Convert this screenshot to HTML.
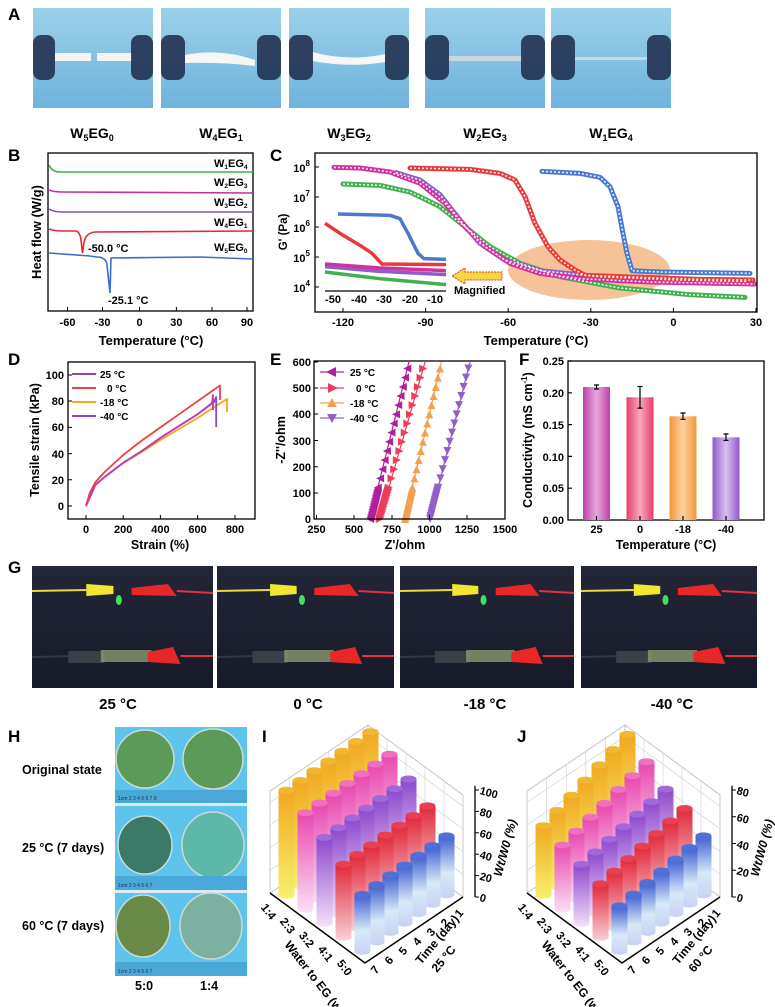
<!DOCTYPE html>
<html><head><meta charset="utf-8"><style>
html,body{margin:0;padding:0;background:#fff}
svg{display:block;font-family:"Liberation Sans",Arial,sans-serif}
.pl{font-weight:bold;font-size:17px}
.t{font-size:11px;font-weight:bold}
.at{font-size:11.5px;font-weight:bold}
</style></head><body>
<svg id="s" width="775" height="1007" viewBox="0 0 775 1007" xmlns="http://www.w3.org/2000/svg">
<defs>
<linearGradient id="ph" x1="0" y1="0" x2="0" y2="1"><stop offset="0" stop-color="#9cd0ea"/><stop offset="1" stop-color="#6fb3dc"/></linearGradient>
<linearGradient id="dk" x1="0" y1="0" x2="0" y2="1"><stop offset="0" stop-color="#222637"/><stop offset="1" stop-color="#161a28"/></linearGradient>
<linearGradient id="b1" x1="0" y1="0" x2="1" y2="0"><stop offset="0" stop-color="#c040a8"/><stop offset=".5" stop-color="#e8a8dc"/><stop offset="1" stop-color="#c040a8"/></linearGradient>
<linearGradient id="b2" x1="0" y1="0" x2="1" y2="0"><stop offset="0" stop-color="#e83c6c"/><stop offset=".5" stop-color="#f8a8bc"/><stop offset="1" stop-color="#e83c6c"/></linearGradient>
<linearGradient id="b3" x1="0" y1="0" x2="1" y2="0"><stop offset="0" stop-color="#f09838"/><stop offset=".5" stop-color="#fcd0a0"/><stop offset="1" stop-color="#f09838"/></linearGradient>
<linearGradient id="b4" x1="0" y1="0" x2="1" y2="0"><stop offset="0" stop-color="#9058c8"/><stop offset=".5" stop-color="#d8c0f0"/><stop offset="1" stop-color="#9058c8"/></linearGradient>
<linearGradient id="gY" x1="0" y1="0" x2="0" y2="1"><stop offset="0" stop-color="#f0a820"/><stop offset="1" stop-color="#f8f070"/></linearGradient>
<linearGradient id="gP" x1="0" y1="0" x2="0" y2="1"><stop offset="0" stop-color="#e848b0"/><stop offset="1" stop-color="#fae0f4"/></linearGradient>
<linearGradient id="gV" x1="0" y1="0" x2="0" y2="1"><stop offset="0" stop-color="#8c48cc"/><stop offset="1" stop-color="#f4e0fa"/></linearGradient>
<linearGradient id="gR" x1="0" y1="0" x2="0" y2="1"><stop offset="0" stop-color="#e02838"/><stop offset="1" stop-color="#fad0d8"/></linearGradient>
<linearGradient id="gB" x1="0" y1="0" x2="0" y2="1"><stop offset="0" stop-color="#3c5cd0"/><stop offset=".6" stop-color="#d8eaf8"/><stop offset="1" stop-color="#c8d0f4"/></linearGradient>
</defs>

<!-- Panel A -->
<text class="pl" x="8" y="20">A</text>
<g>
<rect x="33" y="8" width="120" height="100" fill="url(#ph)"/>
<rect x="161" y="8" width="120" height="100" fill="url(#ph)"/>
<rect x="289" y="8" width="120" height="100" fill="url(#ph)"/>
<rect x="425" y="8" width="120" height="100" fill="url(#ph)"/>
<rect x="551" y="8" width="120" height="100" fill="url(#ph)"/>
<rect x="55" y="53" width="36" height="8" fill="#f4f4f4"/><rect x="97" y="53" width="36" height="8" fill="#f4f4f4"/>
<path d="M185 55 Q220 48 255 60 L255 66 Q220 62 185 63Z" fill="#f6f6f4"/>
<path d="M312 52 Q350 62 385 54 L385 62 Q350 68 312 61Z" fill="#f6f6f4"/>
<rect x="448" y="56" width="75" height="5" fill="#c8d8dc"/>
<rect x="574" y="57" width="75" height="3" fill="#c8d8dc"/>
<g fill="#1c2a4a" opacity=".85">
<rect x="33" y="35" width="22" height="45" rx="8"/><rect x="131" y="35" width="22" height="45" rx="8"/>
<rect x="161" y="35" width="24" height="45" rx="8"/><rect x="257" y="35" width="24" height="45" rx="8"/>
<rect x="289" y="35" width="24" height="45" rx="8"/><rect x="385" y="35" width="24" height="45" rx="8"/>
<rect x="425" y="35" width="24" height="45" rx="8"/><rect x="521" y="35" width="24" height="45" rx="8"/>
<rect x="551" y="35" width="24" height="45" rx="8"/><rect x="647" y="35" width="24" height="45" rx="8"/>
</g>
</g>
<g font-weight="bold" font-size="14" text-anchor="middle">
<text x="92" y="138">W<tspan font-size="9" dy="3">5</tspan><tspan dy="-3">EG</tspan><tspan font-size="9" dy="3">0</tspan></text>
<text x="221" y="138">W<tspan font-size="9" dy="3">4</tspan><tspan dy="-3">EG</tspan><tspan font-size="9" dy="3">1</tspan></text>
<text x="349" y="138">W<tspan font-size="9" dy="3">3</tspan><tspan dy="-3">EG</tspan><tspan font-size="9" dy="3">2</tspan></text>
<text x="485" y="138">W<tspan font-size="9" dy="3">2</tspan><tspan dy="-3">EG</tspan><tspan font-size="9" dy="3">3</tspan></text>
<text x="611" y="138">W<tspan font-size="9" dy="3">1</tspan><tspan dy="-3">EG</tspan><tspan font-size="9" dy="3">4</tspan></text>
</g>

<!-- Panel B -->
<text class="pl" x="8" y="161">B</text>
<rect x="48" y="153" width="205" height="158" fill="none" stroke="#000" stroke-width="1.3"/>
<g fill="none" stroke-width="1.6">
<path d="M49 165 Q52 172 60 172 L253 172" stroke="#3cb44a"/>
<path d="M49 190 Q54 192 62 192 L253 193" stroke="#c030a0"/>
<path d="M49 209 Q54 212 62 212 L253 212" stroke="#8050c0"/>
<path d="M49 229 Q54 231 62 231 L76 231 Q80 232 81 240 L82.5 253 L84 242 Q86 233 95 232 L253 231" stroke="#e82830"/>
<path d="M49 253 L90 256 L97 257 Q106 257 107 265 L110 293 L111 258 L200 257 L253 259" stroke="#3c6cd0"/>
</g>
<g class="t" font-size="9.5">
<text x="214" y="167">W<tspan font-size="6.5" dy="2">1</tspan><tspan dy="-2">EG</tspan><tspan font-size="6.5" dy="2">4</tspan></text>
<text x="214" y="186">W<tspan font-size="6.5" dy="2">2</tspan><tspan dy="-2">EG</tspan><tspan font-size="6.5" dy="2">3</tspan></text>
<text x="214" y="206">W<tspan font-size="6.5" dy="2">3</tspan><tspan dy="-2">EG</tspan><tspan font-size="6.5" dy="2">2</tspan></text>
<text x="214" y="226">W<tspan font-size="6.5" dy="2">4</tspan><tspan dy="-2">EG</tspan><tspan font-size="6.5" dy="2">1</tspan></text>
<text x="214" y="251">W<tspan font-size="6.5" dy="2">5</tspan><tspan dy="-2">EG</tspan><tspan font-size="6.5" dy="2">0</tspan></text>
<text x="88" y="252">-50.0 °C</text>
<text x="108" y="304">-25.1 °C</text>
</g>
<g stroke="#000" stroke-width="1">
<path d="M67.5 311v-4M102.5 311v-4M139.5 311v-4M176.4 311v-4M212 311v-4M247 311v-4"/>
</g>
<g class="t" text-anchor="middle" font-size="12">
<text x="67.5" y="326">-60</text><text x="102.5" y="326">-30</text><text x="139.5" y="326">0</text><text x="176.4" y="326">30</text><text x="212" y="326">60</text><text x="247" y="326">90</text>
<text x="151" y="345" font-size="13">Temperature (°C)</text>
<text transform="translate(41 232) rotate(-90)" font-size="13">Heat flow (W/g)</text>
</g>

<!-- Panel C -->
<text class="pl" x="270" y="161">C</text>
<ellipse cx="589" cy="270" rx="81" ry="30" fill="#f5b887" opacity=".85"/>
<g transform="matrix(1 0 0 0.6667 0 46.667)">
<g fill="none" stroke-width="5" stroke-linejoin="round" stroke-linecap="round">
<polyline vector-effect="non-scaling-stroke" stroke="#3fb14d" points="343,206 380,208 410,218 440,240 465,270 490,300 520,325 560,345 620,362 690,372 745,376"/>
<polyline vector-effect="non-scaling-stroke" stroke="#8f5ccb" points="396,189 420,200 440,222 460,260 480,295 505,320 540,336 600,345 680,350 748,352"/>
<polyline vector-effect="non-scaling-stroke" stroke="#d3309f" points="334,181 360,182 390,188 420,205 445,235 465,270 485,300 510,325 540,340 580,348 650,353 755,356"/>
<polyline vector-effect="non-scaling-stroke" stroke="#e83a3a" points="410,182 470,184 500,190 515,200 525,225 535,265 548,300 560,320 575,335 585,343 620,345 700,349 753,350"/>
<polyline vector-effect="non-scaling-stroke" stroke="#4a78d0" points="542,187 580,190 600,196 610,210 618,240 623,280 627,310 632,336 660,338 750,340"/>
</g>
<g fill="none" stroke="#fff" stroke-width="1.6" stroke-dasharray="2 2" opacity=".9">
<polyline vector-effect="non-scaling-stroke" points="343,206 380,208 410,218 440,240 465,270 490,300 520,325 560,345 620,362 690,372 745,376"/>
<polyline vector-effect="non-scaling-stroke" points="396,189 420,200 440,222 460,260 480,295 505,320 540,336 600,345 680,350 748,352"/>
<polyline vector-effect="non-scaling-stroke" points="334,181 360,182 390,188 420,205 445,235 465,270 485,300 510,325 540,340 580,348 650,353 755,356"/>
<polyline vector-effect="non-scaling-stroke" points="410,182 470,184 500,190 515,200 525,225 535,265 548,300 560,320 575,335 585,343 620,345 700,349 753,350"/>
<polyline vector-effect="non-scaling-stroke" points="542,187 580,190 600,196 610,210 618,240 623,280 627,310 632,336 660,338 750,340"/>
</g>
<g fill="none" stroke-width="3.5" stroke-linejoin="round">
<polyline vector-effect="non-scaling-stroke" stroke="#3fb14d" points="325,338 380,348 446,357"/>
<polyline vector-effect="non-scaling-stroke" stroke="#8f5ccb" points="325,330 380,337 446,342"/>
<polyline vector-effect="non-scaling-stroke" stroke="#d3309f" points="325,326 380,332 446,336"/>
<polyline vector-effect="non-scaling-stroke" stroke="#e83a3a" points="325,265 340,280 360,298 372,310 382,326 446,327"/>
<polyline vector-effect="non-scaling-stroke" stroke="#4a78d0" points="338,251 390,253 400,258 408,280 418,310 424,318 446,319"/>
</g>
</g>
<line x1="325" y1="291" x2="446" y2="291" stroke="#000" stroke-width="1.2"/>
<g class="t" text-anchor="middle" font-size="10"><text x="333" y="303">-50</text><text x="359" y="303">-40</text><text x="384" y="303">-30</text><text x="410" y="303">-20</text><text x="435" y="303">-10</text></g>
<path d="M502 272 L465 272 L465 268 L452 276 L465 284 L465 280 L502 280Z" fill="#f4d840" stroke="#e83030" stroke-width="1" stroke-dasharray="2 1"/>
<text class="t" x="454" y="294" font-size="10.5">Magnified</text>
<rect x="315" y="153" width="442" height="159" fill="none" stroke="#000" stroke-width="1.3"/>
<g stroke="#000"><path d="M343 312v-4M425.6 312v-4M508.2 312v-4M590.8 312v-4M673.4 312v-4M756 312v-4M315 167h4M315 197h4M315 227h4M315 257h4M315 287h4"/></g>
<g class="t" font-size="12" text-anchor="middle">
<text x="343" y="326">-120</text><text x="425.6" y="326">-90</text><text x="508.2" y="326">-60</text><text x="590.8" y="326">-30</text><text x="673.4" y="326">0</text><text x="756" y="326">30</text>
<text x="536" y="345" font-size="13">Temperature (°C)</text>
</g>
<g class="t" font-size="12" text-anchor="end">
<text x="310" y="172">10<tspan font-size="8" dy="-6">8</tspan></text>
<text x="310" y="202">10<tspan font-size="8" dy="-6">7</tspan></text>
<text x="310" y="232">10<tspan font-size="8" dy="-6">6</tspan></text>
<text x="310" y="262">10<tspan font-size="8" dy="-6">5</tspan></text>
<text x="310" y="292">10<tspan font-size="8" dy="-6">4</tspan></text>
</g>
<text class="at" transform="translate(287 232) rotate(-90)" text-anchor="middle" font-size="13">G' (Pa)</text>

<!-- Panel D -->
<text class="pl" x="8" y="365">D</text>
<rect x="68" y="362" width="187" height="157" fill="none" stroke="#000" stroke-width="1.3"/>
<g fill="none" stroke-width="1.8" stroke-linejoin="round">
<polyline stroke="#f6a818" points="86,506 95.3,485 104.6,477 123.2,463 141.8,452 160.4,440 179,429 197.6,418 216,406 227,399 227,412"/>
<polyline stroke="#8848c8" points="86,506 95.3,485 104.6,477 123.2,462.8 141.8,451 160.4,437.9 179,426 197.6,414.3 214,402 216.2,397 216.2,427"/>
<polyline stroke="#c03cb0" points="86,506 95.3,485 104.6,477 123.2,462.8 141.8,451 160.4,437.9 179,426 197.6,414.3 212,403 213,395 213,410"/>
<polyline stroke="#ee4040" points="86,506 89.7,493 95.3,482.4 104.6,472 123.2,455 141.8,440.5 160.4,427.4 179,414.3 197.6,401.2 220,385.5 220,400"/>
</g>
<g stroke="#000"><path d="M86 519v-4M123.2 519v-4M160.4 519v-4M197.6 519v-4M235 519v-4M68 375h4M68 401h4M68 427.4h4M68 453.6h4M68 479.8h4M68 506h4"/></g>
<g class="t" font-size="11.5">
<g text-anchor="end"><text x="64" y="379">100</text><text x="64" y="405">80</text><text x="64" y="431">60</text><text x="64" y="458">40</text><text x="64" y="484">20</text><text x="64" y="510">0</text></g>
<g text-anchor="middle"><text x="86" y="533">0</text><text x="123.2" y="533">200</text><text x="160.4" y="533">400</text><text x="197.6" y="533">600</text><text x="235" y="533">800</text>
<text x="160" y="549" font-size="12.5">Strain (%)</text></g>
<text transform="translate(39 440) rotate(-90)" text-anchor="middle" font-size="12.5">Tensile strain (kPa)</text>
<g font-size="10"><text x="100" y="378">25 °C</text><text x="107" y="392">0 °C</text><text x="100" y="406">-18 °C</text><text x="100" y="420">-40 °C</text></g>
</g>
<g stroke-width="2"><path d="M72 374h24" stroke="#a040b0"/><path d="M72 388h24" stroke="#ee4040"/><path d="M72 402h24" stroke="#f6a818"/><path d="M72 416h24" stroke="#8848c8"/></g>

<!-- Panel E -->
<text class="pl" x="270" y="365">E</text>
<g id="eser"></g>
<rect x="314" y="361" width="191" height="158" fill="none" stroke="#000" stroke-width="1.3"/>
<g stroke="#000"><path d="M316.5 519v-4M354 519v-4M392 519v-4M429.5 519v-4M467 519v-4M505 519v-4M314 362h4M314 388h4M314 414h4M314 440.5h4M314 466.7h4M314 493h4"/></g>
<g class="t" font-size="11.5">
<g text-anchor="end"><text x="311" y="366">600</text><text x="311" y="392">500</text><text x="311" y="418">400</text><text x="311" y="445">300</text><text x="311" y="471">200</text><text x="311" y="497">100</text><text x="311" y="523">0</text></g>
<g text-anchor="middle"><text x="316.5" y="533">250</text><text x="354" y="533">500</text><text x="392" y="533">750</text><text x="429.5" y="533">1000</text><text x="467" y="533">1250</text><text x="505" y="533">1500</text>
<text x="405" y="549" font-size="12.5">Z'/ohm</text></g>
<text transform="translate(285 440) rotate(-90)" text-anchor="middle" font-size="12.5">-Z''/ohm</text>
<g font-size="10"><text x="350" y="376">25 °C</text><text x="356" y="392">0 °C</text><text x="350" y="407">-18 °C</text><text x="350" y="422">-40 °C</text></g>
</g>
<g stroke-width="1.2"><path d="M320 372h24" stroke="#b0209c"/><path d="M320 388h24" stroke="#ee3c5c"/><path d="M320 403h24" stroke="#f4a050"/><path d="M320 418h24" stroke="#9060c8"/></g>
<polygon points="326,372 336,367 336,377" fill="#b0209c"/>
<polygon points="338,388 328,383 328,393" fill="#ee3c5c"/>
<polygon points="332,398 327,407 337,407" fill="#f4a050"/>
<polygon points="332,423 327,414 337,414" fill="#9060c8"/>

<!-- Panel F -->
<text class="pl" x="519" y="365">F</text>
<rect x="568" y="361" width="196" height="159" fill="none" stroke="#000" stroke-width="1.3"/>
<rect x="583" y="387" width="27" height="133" fill="url(#b1)"/>
<rect x="626.5" y="397.3" width="27" height="122.7" fill="url(#b2)"/>
<rect x="669.5" y="416.3" width="27" height="103.7" fill="url(#b3)"/>
<rect x="712.5" y="437.3" width="27" height="82.7" fill="url(#b4)"/>
<g stroke="#000" stroke-width="1.2" fill="none">
<path d="M596.5 385v4M594 385h5M594 389h5"/>
<path d="M640 386.5v21.6M637.5 386.5h5M637.5 408.1h5"/>
<path d="M683 413v6.4M680.5 413h5M680.5 419.4h5"/>
<path d="M726 434v6.4M723.5 434h5M723.5 440.4h5"/>
<path d="M568 361h4M568 392.8h4M568 424.6h4M568 456.4h4M568 488.2h4M596.5 520v-4M640 520v-4M683 520v-4M726 520v-4"/>
</g>
<g class="t" font-size="11.5">
<g text-anchor="end"><text x="564" y="365">0.25</text><text x="564" y="397">0.20</text><text x="564" y="429">0.15</text><text x="564" y="461">0.10</text><text x="564" y="492">0.05</text><text x="564" y="524">0.00</text></g>
<g text-anchor="middle"><text x="596.5" y="533">25</text><text x="640" y="533">0</text><text x="683" y="533">-18</text><text x="726" y="533">-40</text>
<text x="666" y="549" font-size="12.5">Temperature (°C)</text></g>
<text transform="translate(532 440) rotate(-90)" text-anchor="middle" font-size="12.5">Conductivity (mS cm<tspan font-size="8" dy="-5">-1</tspan><tspan dy="5">)</tspan></text>
</g>

<!-- Panel G -->
<text class="pl" x="8" y="573">G</text>
<g>
<rect x="32" y="566" width="181" height="122" fill="url(#dk)"/>
<rect x="217" y="566" width="177" height="122" fill="url(#dk)"/>
<rect x="400" y="566" width="174" height="122" fill="url(#dk)"/>
<rect x="581" y="566" width="176" height="122" fill="url(#dk)"/>
</g>
<g id="gclips"></g>
<g font-weight="bold" font-size="15" text-anchor="middle">
<text x="118" y="709">25 °C</text><text x="308" y="709">0 °C</text><text x="485" y="709">-18 °C</text><text x="672" y="709">-40 °C</text>
</g>

<!-- Panel H -->
<text class="pl" x="8" y="742">H</text>
<rect x="115" y="727" width="132" height="249" fill="#5ec4ec"/>
<rect x="115" y="803" width="132" height="3" fill="#d8eef8"/><rect x="115" y="890" width="132" height="3" fill="#d8eef8"/>
<g fill="#5c9a58" stroke="#c8dcd8" stroke-width="1.5">
<ellipse cx="145" cy="759" rx="29" ry="29"/><ellipse cx="213" cy="759" rx="30" ry="30"/>
<ellipse cx="145" cy="845" rx="27" ry="29" fill="#3c7a68"/><ellipse cx="213" cy="845" rx="31" ry="33" fill="#5cb8a8"/>
<ellipse cx="143" cy="926" rx="27" ry="31" fill="#6a8a48"/><ellipse cx="211" cy="926" rx="31" ry="33" fill="#7cb0a0"/>
</g>
<g fill="#4aa8d8"><rect x="115" y="790" width="132" height="13"/><rect x="115" y="876" width="132" height="14"/><rect x="115" y="962" width="132" height="14"/></g>
<g font-size="5" fill="#234"><text x="118" y="800">1cm  2    3    4    5    6    7    8</text><text x="118" y="887">1cm  2    3    4    5    6    7</text><text x="118" y="973">1cm  2    3    4    5    6    7</text></g>
<g font-weight="bold" font-size="12.5">
<text x="22" y="774">Original state</text><text x="22" y="852">25 °C (7 days)</text><text x="22" y="930">60 °C (7 days)</text>
<text x="135" y="990">5:0</text><text x="200" y="990">1:4</text>
</g>

<!-- Panel I and J -->
<text class="pl" x="262" y="742">I</text>
<text class="pl" x="517" y="742">J</text>
<g id="ij"></g>
</svg>
<script>
var NS="http://www.w3.org/2000/svg";
function el(p,t,a){var e=document.createElementNS(NS,t);for(var k in a)e.setAttribute(k,a[k]);p.appendChild(e);return e;}
(function(){
 var g=document.getElementById('eser');
 var S=[["#b0209c",605,863,'L'],["#ee3c5c",670,970,'R'],["#f4a050",837,1079,'U'],["#9060c8",1003,1268,'D']];
 function X(o){return 316.5+(o-250)*0.1508;} function Y(z){return 519-z*0.2617;}
 S.forEach(function(s){
  el(g,'line',{x1:X(s[1]),y1:Y(0),x2:X(s[2]),y2:Y(600),stroke:s[0],'stroke-width':1.2});
  var zs=[];for(var z=0;z<120;z+=6)zs.push(z);for(var z=120;z<=580;z+=35)zs.push(z);
  zs.forEach(function(z){var x=X(s[1]+(s[2]-s[1])*z/600),y=Y(z),p;
   if(s[3]=='L')p=[x-4,y,x+4,y-4,x+4,y+4];else if(s[3]=='R')p=[x+4,y,x-4,y-4,x-4,y+4];
   else if(s[3]=='U')p=[x,y-4,x-4,y+4,x+4,y+4];else p=[x,y+4,x-4,y-4,x+4,y-4];
   el(g,'polygon',{points:p.join(','),fill:s[0]});});
 });
})();
(function(){
 var g=document.getElementById('gclips');
 [[32,181],[217,177],[400,174],[581,176]].forEach(function(r,i){
  var x=r[0],w=r[1];
  el(g,'path',{d:'M'+x+' 591 L'+(x+w*0.3)+' 590',stroke:'#e8d840','stroke-width':2});
  el(g,'path',{d:'M'+(x+w*0.3)+' 584 L'+(x+w*0.45)+' 586 L'+(x+w*0.45)+' 594 L'+(x+w*0.3)+' 596Z',fill:'#f0e830'});
  el(g,'ellipse',{cx:x+w*0.48,cy:600,rx:3,ry:5,fill:'#40e060'});
  el(g,'path',{d:'M'+(x+w*0.55)+' 588 L'+(x+w*0.75)+' 584 L'+(x+w*0.8)+' 596 L'+(x+w*0.55)+' 595Z',fill:'#e82828'});
  el(g,'path',{d:'M'+(x+w*0.8)+' 591 L'+(x+w)+' 593',stroke:'#e83040','stroke-width':2});
  el(g,'path',{d:'M'+x+' 657 L'+(x+w*0.25)+' 656',stroke:'#303848','stroke-width':2});
  el(g,'rect',{x:x+w*0.2,y:651,width:w*0.2,height:12,fill:'#3a4048'});
  el(g,'rect',{x:x+w*0.38,y:650,width:w*0.28,height:12,fill:'#8a9a70',opacity:.8});
  el(g,'path',{d:'M'+(x+w*0.64)+' 652 L'+(x+w*0.78)+' 647 L'+(x+w*0.82)+' 664 L'+(x+w*0.64)+' 662Z',fill:'#e82828'});
  el(g,'path',{d:'M'+(x+w*0.82)+' 656 L'+(x+w)+' 656',stroke:'#e83040','stroke-width':2});
 });
})();
(function(){
 var g=document.getElementById('ij');
 function panel(dx,H,maxv,ticks,lab){
  var L=[270+dx,893],F=[365+dx,963],R=[463+dx,897],B=[L[0]+R[0]-F[0],L[1]+R[1]-F[1]];
  var wh=102;
  el(g,'polygon',{points:[L[0],L[1],B[0],B[1],B[0],B[1]-wh,L[0],L[1]-wh].join(','),fill:'#fff',stroke:'#bbb','stroke-width':.8});
  el(g,'polygon',{points:[R[0],R[1],B[0],B[1],B[0],B[1]-wh,R[0],R[1]-wh].join(','),fill:'#fff',stroke:'#bbb','stroke-width':.8});
  for(var i=1;i<5;i++){var t=i/5;
   el(g,'line',{x1:L[0]+(B[0]-L[0])*t,y1:L[1]+(B[1]-L[1])*t,x2:L[0]+(B[0]-L[0])*t,y2:L[1]+(B[1]-L[1])*t-wh,stroke:'#ccc','stroke-width':.6});
   el(g,'line',{x1:R[0]+(B[0]-R[0])*t,y1:R[1]+(B[1]-R[1])*t,x2:R[0]+(B[0]-R[0])*t,y2:R[1]+(B[1]-R[1])*t-wh,stroke:'#ccc','stroke-width':.6});
  }
  for(var i=1;i<=4;i++){var yy=wh*i/4.5;
   el(g,'polyline',{points:[L[0],L[1]-yy,B[0],B[1]-yy,R[0],R[1]-yy].join(','),fill:'none',stroke:'#ccc','stroke-width':.6});}
  el(g,'polyline',{points:[L[0],L[1],F[0],F[1],R[0],R[1]].join(','),fill:'none',stroke:'#000','stroke-width':1.5});
  var ax=R[0]+12;
  el(g,'line',{x1:ax,y1:R[1],x2:ax,y2:R[1]-H*1.04,stroke:'#000','stroke-width':1.3});
  ticks.forEach(function(v){var y=R[1]-v/maxv*H;
   el(g,'line',{x1:ax,y1:y,x2:ax+4,y2:y,stroke:'#000'});
   var t=el(g,'text',{x:ax+5,y:y+4,'font-size':11,'font-weight':'bold',transform:'rotate(15 '+(ax+5)+' '+y+')'});t.textContent=v;});
  var tt=el(g,'text',{transform:'translate('+(ax+34)+' '+(R[1]-H*0.45)+') rotate(-75)','text-anchor':'middle','font-size':12,'font-weight':'bold','font-style':'italic'});
  tt.textContent='Wt/W0 (%)';
  var rows=['1:4','2:3','3:2','4:1','5:0'];
  rows.forEach(function(r,i){var a=(i+0.5)/5;var x=L[0]+(F[0]-L[0])*a-14,y=L[1]+(F[1]-L[1])*a+14;
   var t=el(g,'text',{x:x,y:y,'font-size':11.5,'font-weight':'bold',transform:'rotate(52 '+x+' '+y+')','text-anchor':'middle'});t.textContent=r;});
  for(var d=1;d<=7;d++){var t=(7-d+0.5)/7;var x=F[0]+(R[0]-F[0])*t+6,y=F[1]+(R[1]-F[1])*t+14;
   var e=el(g,'text',{x:x,y:y,'font-size':11.5,'font-weight':'bold',transform:'rotate(-50 '+x+' '+y+')','text-anchor':'middle'});e.textContent=d;}
  var x1=L[0]+14,y1=L[1]+52;
  var e=el(g,'text',{x:x1,y:y1,'font-size':12,'font-weight':'bold',transform:'rotate(52 '+x1+' '+y1+')'});e.textContent='Water to EG (w/w)';
  var x2=F[0]+56,y2=F[1]+2;
  e=el(g,'text',{x:x2,y:y2,'font-size':12,'font-weight':'bold',transform:'rotate(-50 '+x2+' '+y2+')'});e.textContent='Time (day)';
  var x3=F[0]+72,y3=F[1]+10;
  e=el(g,'text',{x:x3,y:y3,'font-size':12,'font-weight':'bold',transform:'rotate(-50 '+x3+' '+y3+')'});e.textContent=lab;
  return {L:L,F:F,R:R};
 }
 function bars(P,H,maxv,hf){
  var grads=['gY','gP','gV','gR','gB'],tops=['#f0b830','#f070c0','#a068d8','#e84050','#5070d8'];
  var list=[];
  for(var r=0;r<5;r++)for(var d=1;d<=7;d++){var a=(r+0.5)/5,t=(7-d+0.5)/7;
   var x=P.L[0]+(P.F[0]-P.L[0])*a+(P.R[0]-P.F[0])*t,y=P.L[1]+(P.F[1]-P.L[1])*a+(P.R[1]-P.F[1])*t;
   list.push({x:x,y:y,h:hf(r,d)/maxv*H,r:r});}
  list.sort(function(p,q){return p.y-q.y;});
  list.forEach(function(b){var rr=8,ry=3.5,top=b.y-b.h;
   el(g,'path',{d:'M'+(b.x-rr)+' '+top+' L'+(b.x-rr)+' '+b.y+' A'+rr+' '+ry+' 0 0 0 '+(b.x+rr)+' '+b.y+' L'+(b.x+rr)+' '+top+'Z',fill:'url(#'+grads[b.r]+')'});
   el(g,'ellipse',{cx:b.x,cy:top,rx:rr,ry:ry,fill:tops[b.r]});
  });
 }
 var H=107;
 var P=panel(0,H,100,[0,20,40,60,80,100],'25 °C');
 bars(P,H,100,function(r,d){return [100,92,82,70,55][r]-(d-1)*0.3;});
 var P2=panel(257,H,80,[0,20,40,60,80],'60 °C');
 bars(P2,H,80,function(r,d){var a=[[78,52],[68,48],[58,44],[54,40],[44,34]][r];return a[0]+(a[1]-a[0])*(d-1)/6;});
})();
</script>
</body></html>
